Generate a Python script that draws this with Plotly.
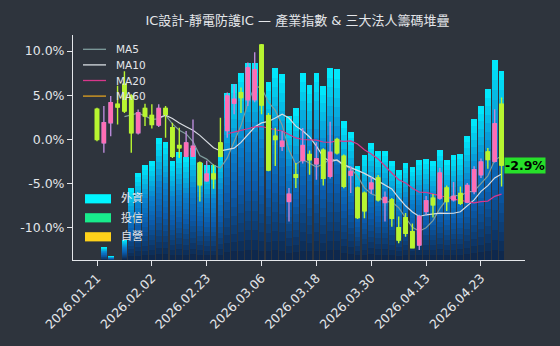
import pandas as pd
import plotly.graph_objects as go

# ---- data -------------------------------------------------------------
dates = [
    "2026.01.21", "2026.01.22", "2026.01.23", "2026.01.26", "2026.01.27",
    "2026.01.28", "2026.01.29", "2026.01.30", "2026.02.02", "2026.02.03",
    "2026.02.04", "2026.02.05", "2026.02.06", "2026.02.09", "2026.02.10",
    "2026.02.11", "2026.02.23", "2026.02.24", "2026.02.25", "2026.02.26",
    "2026.03.02", "2026.03.03", "2026.03.04", "2026.03.05", "2026.03.06",
    "2026.03.09", "2026.03.10", "2026.03.11", "2026.03.12", "2026.03.13",
    "2026.03.16", "2026.03.17", "2026.03.18", "2026.03.19", "2026.03.20",
    "2026.03.23", "2026.03.24", "2026.03.25", "2026.03.26", "2026.03.27",
    "2026.03.30", "2026.03.31", "2026.04.01", "2026.04.02", "2026.04.07",
    "2026.04.08", "2026.04.09", "2026.04.10", "2026.04.13", "2026.04.14",
    "2026.04.15", "2026.04.16", "2026.04.17", "2026.04.20", "2026.04.21",
    "2026.04.22", "2026.04.23", "2026.04.24", "2026.04.27", "2026.04.28",
]

# industry index, % change vs. first close
opens = [
    3.41, -0.38, 1.90, 3.98, 6.25, 4.92, 0.76, 3.52, 2.73, 1.63,
    3.52, 1.33, -0.68, -1.90, -1.90, -2.65, -4.66, -3.90, -0.38, 1.00,
    4.10, 5.30, 4.50, 4.50, 10.68, 2.70, 0.38, -0.76, -7.00, -3.98,
    -2.39, -1.70, -2.76, -1.20, -4.17, 0.00, -1.90, -4.05, -5.49, -6.06,
    -5.57, -4.35, -7.12, -6.82, -9.97, -8.83, -10.42, -11.93, -8.14, -6.63,
    -6.63, -5.49, -6.82, -6.10, -7.08, -5.87, -3.98, -1.40, -2.46, 3.98,
]
highs = [
    3.60, 3.78, 4.92, 6.06, 7.70, 5.10, 3.40, 4.05, 3.98, 3.98,
    3.78, 1.90, 1.33, 0.95, 2.27, -2.50, -2.40, -2.84, 2.46, 5.30,
    6.25, 5.87, 8.71, 9.85, 10.80, 3.00, 1.33, 0.95, -5.49, -2.65,
    1.30, -1.25, -0.30, -1.00, 2.00, 0.20, -1.70, -3.03, -5.30, -5.87,
    -4.28, -4.00, -5.87, -6.60, -8.71, -8.30, -9.50, -8.50, -6.40, -6.17,
    -3.20, -5.19, -4.80, -5.30, -4.92, -3.03, -2.16, -0.95, 3.41, 4.74,
]
lows = [
    -0.20, -1.51, 0.38, 1.70, 3.00, -1.51, 0.57, 1.52, 1.25, 1.40,
    0.19, -2.08, -2.08, -2.00, -1.95, -7.00, -4.80, -5.57, -2.00, 0.19,
    2.84, 3.00, 3.78, 4.20, 2.84, -3.60, -3.00, -1.30, -9.28, -5.49,
    -2.70, -3.98, -4.55, -5.19, -4.40, -1.70, -5.50, -6.06, -9.00, -8.90,
    -6.17, -7.00, -9.28, -9.85, -11.74, -11.00, -12.30, -12.50, -8.50, -8.83,
    -6.80, -8.07, -7.00, -7.40, -7.20, -6.20, -4.35, -3.30, -2.60, -5.30,
]
closes = [
    0.00, 1.90, 4.17, 3.67, 3.22, 0.76, 3.03, 2.65, 1.70, 3.52,
    2.84, -1.90, -0.94, -0.38, -0.76, -5.11, -3.90, -4.43, -1.90, 4.92,
    4.55, 4.73, 8.10, 7.90, 3.90, -3.45, 0.00, -0.19, -6.17, -4.28,
    -0.68, -2.30, -2.16, -4.40, -1.45, -1.51, -5.30, -3.60, -8.83, -8.07,
    -4.92, -6.82, -6.55, -8.90, -11.36, -10.60, -12.23, -8.71, -6.93, -7.39,
    -3.78, -7.00, -6.44, -7.20, -5.19, -3.41, -2.54, -2.27, 1.78, -2.90,
]

# three major institutional investors, stacked holding (lots)
chip_total = [
    0, 130, 40, 0, 200, 720, 870, 950, 990, 1220,
    1180, 990, 1080, 1030, 1120, 970, 950, 950, 1100, 1670,
    1760, 1870, 1970, 1970, 1860, 1780, 1920, 1860, 1440, 1520,
    1870, 1750, 1870, 1740, 1920, 1910, 1390, 1280, 940, 1050,
    1170, 1090, 1090, 990, 900, 970, 930, 1000, 1010, 990,
    1100, 1000, 1050, 1060, 1240, 1410, 1540, 1710, 2000, 1890,
]

tick_dates = dates[::8]
y_ticks = [-10, -5, 0, 5, 10]
ma_windows = [5, 10, 20, 60]
chip_labels = ["外資", "投信", "自營"]

# ---- styling -----------------------------------------------------------
BG = "#2e343d"
TXT = "#e4e6ea"
PINK = "#ff6eb4"
PINK_WICK = "#b98ad8"
LIME = "#b8f531"
MA_COLORS = {5: "#7f9d9d", 10: "#d8dce2", 20: "#d8378c", 60: "#e0a020"}
CHIP_COLORS = ["#00f5ff", "#18ec8c", "#ffd21a"]
FONT = "DejaVu Sans, Noto Sans CJK TC, sans-serif"

W, H = 560, 346
L, R, T, B = 73, 525, 35, 260  # plot box in pixels


def px_x(px):
    return (px - L) / (R - L)


def px_y(py):
    return (B - py) / (B - T)


# bar gradient: navy at the base, cyan at the top of every bar
STOPS = [
    (0.00, (14, 36, 70)),
    (0.38, (11, 92, 172)),
    (0.62, (10, 128, 205)),
    (0.82, (6, 185, 228)),
    (1.00, (0, 240, 255)),
]


def grad(f):
    for (f0, c0), (f1, c1) in zip(STOPS[:-1], STOPS[1:]):
        if f <= f1:
            t = (f - f0) / (f1 - f0)
            return "rgb(%d,%d,%d)" % tuple(round(a + (b - a) * t) for a, b in zip(c0, c1))
    return "rgb(%d,%d,%d)" % STOPS[-1][1]


N_SEG = 20
fig = go.Figure()

for j in range(N_SEG):
    fig.add_trace(go.Bar(
        x=dates, y=[v / N_SEG for v in chip_total],
        marker=dict(color=grad((j + 0.5) / N_SEG), line=dict(width=0)),
        yaxis="y", showlegend=False, hoverinfo="skip",
    ))

# moving averages of the close
close_s = pd.Series(closes)
for w in ma_windows:
    ma = close_s.rolling(w).mean()
    fig.add_trace(go.Scatter(
        x=dates, y=ma, mode="lines", name=f"MA{w}",
        line=dict(color=MA_COLORS[w], width=1.2),
        yaxis="y2", showlegend=False,
    ))

# candles: full range in wick colours, then bodies on top
fig.add_trace(go.Candlestick(
    x=dates, open=opens, high=highs, low=lows, close=closes,
    increasing=dict(line=dict(color=PINK_WICK, width=1.4), fillcolor=PINK_WICK),
    decreasing=dict(line=dict(color=LIME, width=1.4), fillcolor=LIME),
    whiskerwidth=0, yaxis="y3", showlegend=False,
))
body_hi = [max(o, c) for o, c in zip(opens, closes)]
body_lo = [min(o, c) for o, c in zip(opens, closes)]
fig.add_trace(go.Candlestick(
    x=dates, open=opens, high=body_hi, low=body_lo, close=closes,
    increasing=dict(line=dict(color=PINK, width=1), fillcolor=PINK),
    decreasing=dict(line=dict(color=LIME, width=1), fillcolor=LIME),
    whiskerwidth=0, yaxis="y3", showlegend=False,
))

y_range = [-13.62, 11.81]
x_range = [-3.5, 62.42]

shapes = []
annotations = []

# moving-average key
for i, w in enumerate(ma_windows):
    yy = 49.3 + i * 15.6
    shapes.append(dict(type="line", xref="paper", yref="paper",
                       x0=px_x(83), x1=px_x(106), y0=px_y(yy), y1=px_y(yy),
                       line=dict(color=MA_COLORS[w], width=1.3), layer="above"))
    annotations.append(dict(xref="paper", yref="paper", x=px_x(114), y=px_y(yy),
                            text=f"MA{w}", showarrow=False, xanchor="left",
                            yanchor="middle", font=dict(size=10.5, color=TXT, family=FONT)))

# institutional key
for i, (lab, col) in enumerate(zip(chip_labels, CHIP_COLORS)):
    yc = 198.8 + i * 19
    shapes.append(dict(type="rect", xref="paper", yref="paper",
                       x0=px_x(85), x1=px_x(111), y0=px_y(yc + 4.6), y1=px_y(yc - 4.6),
                       fillcolor=col, line=dict(width=0), layer="above"))
    annotations.append(dict(xref="paper", yref="paper", x=px_x(119), y=px_y(yc),
                            text=lab, showarrow=False, xanchor="left", yanchor="middle",
                            font=dict(size=11, color=TXT, family=FONT)))

# last close tag
annotations.append(dict(
    x=dates[-1], y=closes[-1], xref="x", yref="y2",
    text=f"<b>{closes[-1]:.1f}%</b>", showarrow=False,
    xanchor="left", yanchor="middle", xshift=2,
    bgcolor="#27e02a", borderpad=0, font=dict(size=12.5, color="#000000", family=FONT),
))

fig.update_layout(
    width=W, height=H,
    margin=dict(l=L, r=W - R, t=T, b=H - B, pad=0),
    paper_bgcolor=BG, plot_bgcolor=BG,
    barmode="stack", bargap=0.15,
    title=dict(text="IC設計-靜電防護IC — 產業指數 & 三大法人籌碼堆疊",
               x=297.5 / W, xanchor="center", xref="paper" if False else "container",
               y=1 - 20.5 / H, yanchor="middle",
               font=dict(size=13, color=TXT, family=FONT)),
    font=dict(family=FONT, color=TXT),
    xaxis=dict(type="category", categoryorder="array", categoryarray=dates,
               range=x_range, rangeslider=dict(visible=False),
               tickmode="array", tickvals=tick_dates, ticktext=tick_dates,
               tickangle=-45, ticks="outside", ticklen=5, tickcolor=TXT,
               tickfont=dict(size=12.5, color=TXT, family=FONT),
               showline=True, linecolor=TXT, linewidth=1,
               showgrid=False, zeroline=False, fixedrange=True),
    yaxis=dict(range=[0, 2250], visible=False, showgrid=False, zeroline=False),
    yaxis2=dict(range=y_range, overlaying="y", side="left",
                tickmode="array", tickvals=y_ticks,
                ticktext=[f"{v:.1f}%" for v in y_ticks],
                ticks="outside", ticklen=5, tickcolor=TXT,
                tickfont=dict(size=12.5, color=TXT, family=FONT),
                showline=True, linecolor=TXT, linewidth=1,
                showgrid=False, zeroline=False),
    yaxis3=dict(range=y_range, overlaying="y", visible=False,
                showgrid=False, zeroline=False),
    shapes=shapes, annotations=annotations,
    showlegend=False,
)

fig.write_html("out.html")
